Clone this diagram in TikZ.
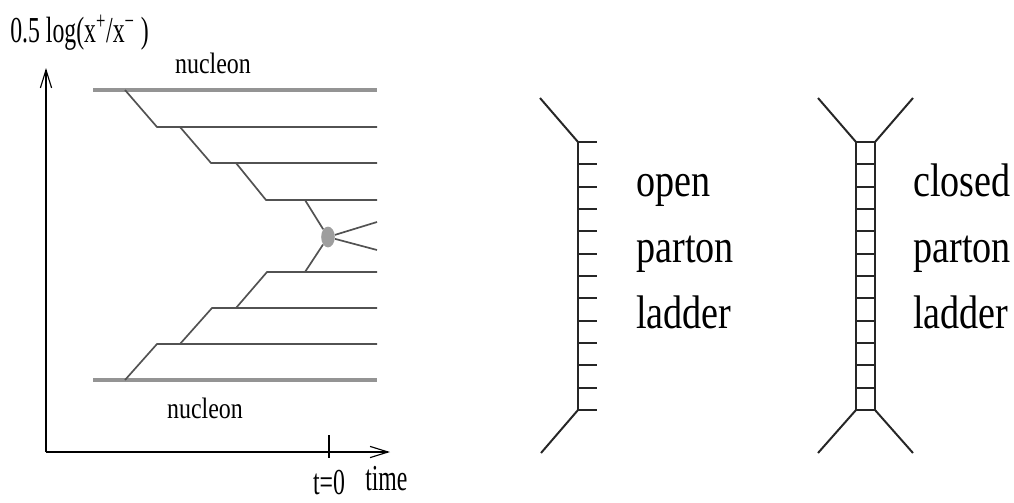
\documentclass[tikz,border=0pt]{standalone}
\usepackage{fontspec}
\setmainfont[FakeStretch=0.81]{Liberation Serif}
\newfontfamily\narrowfont[FakeStretch=0.65]{Liberation Serif}
\usetikzlibrary{arrows.meta,shapes.geometric}
\tikzset{
  nucline/.style={line width=2.3pt,black!42},
  partline/.style={line width=1.2pt,black!68},
  rail/.style={line width=1.4pt,black!85},
  axisarrow/.style={-{Straight Barb[length=4.5mm,width=2.8mm]},line width=0.8pt},
  biglabel/.style={anchor=base west,inner sep=0pt,font=\fontsize{33.5}{33.5}\selectfont},
  smalllabel/.style={inner sep=0pt,font=\fontsize{21}{21}\selectfont},
  axislabel/.style={inner sep=0pt,font=\narrowfont\fontsize{26}{26}\selectfont}
}
\begin{document}
\begin{tikzpicture}[x=0.025cm,y=0.025cm]
    \useasboundingbox (0,0) rectangle (1014,-502);
    \def\rungs#1#2{\foreach \i in {0,...,12} \draw[rail] (#1,{-142-22.33*\i}) -- (#2,{-142-22.33*\i});}
    \coordinate (O) at (46,-452);
    \coordinate (ytop) at (46,-68);
    \coordinate (xend) at (390,-452);
    \draw[axisarrow] (O) -- (ytop);
    \draw[axisarrow] (O) -- (xend);
    \coordinate (tick) at (329,-452);
    \draw[line width=0.8pt] ([yshift=0.42cm]tick) -- ([yshift=-0.15cm]tick);
    \node[axislabel,anchor=base west] (ylab) at (10,-42) {0.5 log(x\textsuperscript{+}/x\textsuperscript{−}\,)};
    \node[axislabel,anchor=base] (tzero) at (329,-494) {t=0};
    \node[axislabel,anchor=base west] (tlab) at (365,-490) {time};
    \node[smalllabel,anchor=base] (nuctop) at (213,-73) {nucleon};
    \node[smalllabel,anchor=base] (nucbot) at (205,-418) {nucleon};
    \node[ellipse,fill=black!38,minimum width=0.34cm,minimum height=0.52cm,inner sep=0pt] (vtx) at (328,-237) {};
    \draw[nucline] (93,-90) -- (377,-90);
    \draw[nucline] (93,-380) -- (377,-380);
    \draw[partline] (125,-90) -- (157,-127) -- (377,-127);
    \draw[partline] (180,-127) -- (211,-163) -- (377,-163);
    \draw[partline] (236,-163) -- (266,-200) -- (377,-200);
    \draw[partline] (305,-200) -- (vtx);
    \draw[partline] (vtx) -- (377,-222);
    \draw[partline] (vtx) -- (377,-250);
    \draw[partline] (305,-272) -- (vtx);
    \draw[partline] (236,-308) -- (267,-272) -- (377,-272);
    \draw[partline] (180,-344) -- (212,-308) -- (377,-308);
    \draw[partline] (125,-380) -- (157,-344) -- (377,-344);
    \coordinate (ot) at (578,-142);
    \coordinate (ob) at (578,-410);
    \draw[rail] (540,-98) -- (ot) -- (ob) -- (541,-453);
    \rungs{578}{597}
    \node[biglabel] (open) at (636,-196) {open};
    \node[biglabel] (oparton) at (636,-262) {parton};
    \node[biglabel] (oladder) at (636,-328) {ladder};
    \coordinate (clt) at (856,-142);
    \coordinate (clb) at (856,-410);
    \coordinate (crt) at (875,-142);
    \coordinate (crb) at (875,-410);
    \draw[rail] (818,-98) -- (clt) -- (clb) -- (818,-453);
    \draw[rail] (913,-98) -- (crt) -- (crb) -- (913,-453);
    \rungs{856}{875}
    \node[biglabel] (closed) at (913,-196) {closed};
    \node[biglabel] (cparton) at (913,-262) {parton};
    \node[biglabel] (cladder) at (913,-328) {ladder};
\end{tikzpicture}
\end{document}
